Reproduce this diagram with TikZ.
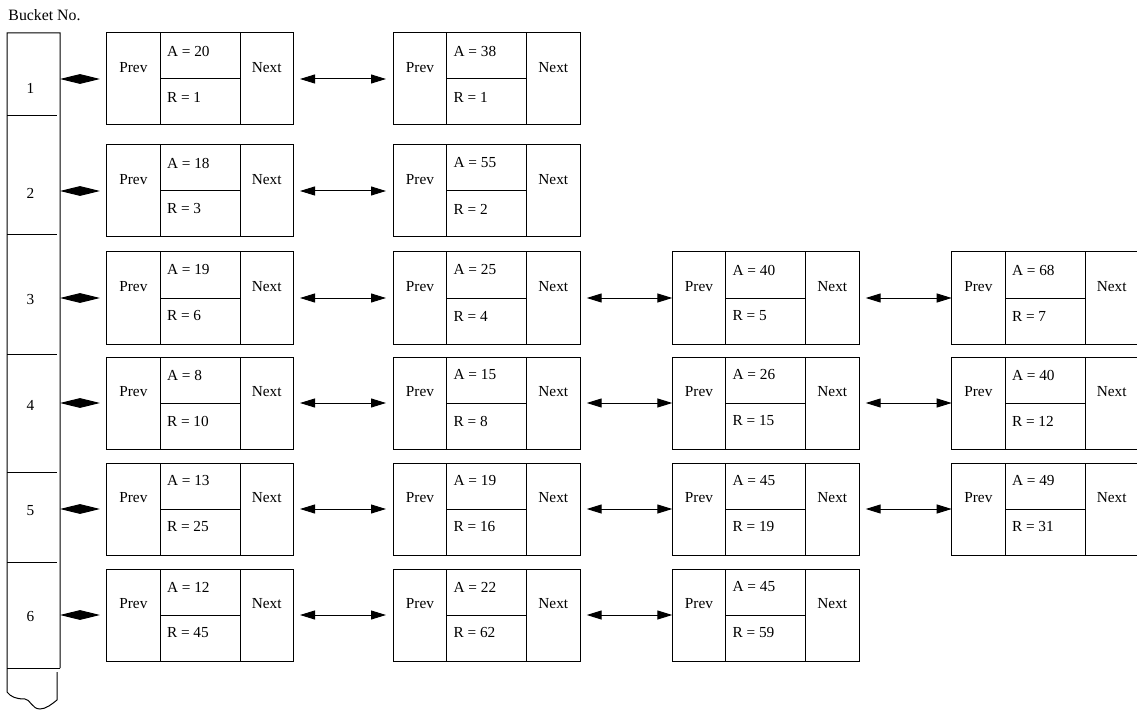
\documentclass[tikz,border=0pt]{standalone}
\usepackage{fontspec}
\setmainfont{Liberation Serif}
\usetikzlibrary{arrows.meta}
\tikzset{
  ln/.style={line width=1pt},
  lbl/.style={inner sep=0pt, outer sep=0pt, font=\fontsize{15.3pt}{18pt}\selectfont},
  llbox/.style={draw, line width=1pt, rectangle, minimum width=186.7pt, minimum height=92pt, inner sep=0pt, outer sep=0pt},
  bkt/.style={rectangle, minimum width=53pt, inner sep=0pt, outer sep=0pt},
  link/.style={ln, {Triangle[length=15pt,width=9pt]}-{Triangle[length=15pt,width=9pt]}},
  dia/.style={ln, {Triangle[length=19.9pt,width=9.5pt]}-{Triangle[length=19.9pt,width=9.5pt]}},
}
\newcommand\llcell[5]{%
  \node[llbox] (#1) at (#2+93.35,#3+46) {};
  \draw[ln] ([xshift=53.3pt]#1.north west) -- ([xshift=53.3pt]#1.south west);
  \draw[ln] ([xshift=-53.3pt]#1.north east) -- ([xshift=-53.3pt]#1.south east);
  \draw[ln] ([xshift=53.3pt]#1.west) -- ([xshift=-53.3pt]#1.east);
  \node[lbl] (#1p) at ([xshift=26.7pt,yshift=11pt]#1.west) {Prev};
  \node[lbl] (#1n) at ([xshift=-26.7pt,yshift=11pt]#1.east) {Next};
  \node[lbl,anchor=west] (#1a) at ([xshift=60.3pt,yshift=28pt]#1.west) {A = #4};
  \node[lbl,anchor=west] (#1r) at ([xshift=60.3pt,yshift=-18pt]#1.west) {R = #5};
}
\begin{document}
\begin{tikzpicture}[x=1pt,y=-1pt]
\useasboundingbox (0,0) rectangle (1137,711);
\node[lbl,anchor=west,font=\fontsize{15.8pt}{18pt}\selectfont] (title) at (8.5,15) {Bucket No.};
% bucket column
\node[bkt, minimum height=82.7pt] (bk1) at (33.5,74.35) {};
\node[bkt, minimum height=119pt] (bk2) at (33.5,175.2) {};
\node[bkt, minimum height=119.3pt] (bk3) at (33.5,294.35) {};
\node[bkt, minimum height=118pt] (bk4) at (33.5,413) {};
\node[bkt, minimum height=90.7pt] (bk5) at (33.5,517.35) {};
\node[bkt, minimum height=105.3pt] (bk6) at (33.5,615.35) {};
\draw[ln] (bk6.south east) -- (bk1.north east) -- (bk1.north west) -- (7,692)
  .. controls (11,697) and (16,699) .. (25,699)
  .. controls (30,699) and (32,709) .. (40,709)
  .. controls (46,709) and (52,704) .. (57,700) -- (57,672);
\draw[ln] (bk6.south west) -- (bk6.south east);
\foreach \b in {bk1,bk2,bk3,bk4,bk5}{
  \draw[ln] (\b.south west) -- ([xshift=-3pt]\b.south east);
}
\node[lbl] (n1) at (30.5,88) {1};
\node[lbl] (n2) at (30.5,193) {2};
\node[lbl] (n3) at (30.5,300) {3};
\node[lbl] (n4) at (30.5,405.5) {4};
\node[lbl] (n5) at (30.5,511) {5};
\node[lbl] (n6) at (30.5,617) {6};
% rows
\llcell{r1c1}{106.7}{33}{20}{1}
\llcell{r1c2}{393.3}{33}{38}{1}
\llcell{r2c1}{106.7}{145}{18}{3}
\llcell{r2c2}{393.3}{145}{55}{2}
\llcell{r3c1}{106.7}{252}{19}{6}
\llcell{r3c2}{393.3}{252}{25}{4}
\llcell{r3c3}{672.3}{252}{40}{5}
\llcell{r3c4}{951.7}{252}{68}{7}
\llcell{r4c1}{106.7}{357}{8}{10}
\llcell{r4c2}{393.3}{357}{15}{8}
\llcell{r4c3}{672.3}{357}{26}{15}
\llcell{r4c4}{951.7}{357}{40}{12}
\llcell{r5c1}{106.7}{463}{13}{25}
\llcell{r5c2}{393.3}{463}{19}{16}
\llcell{r5c3}{672.3}{463}{45}{19}
\llcell{r5c4}{951.7}{463}{49}{31}
\llcell{r6c1}{106.7}{569}{12}{45}
\llcell{r6c2}{393.3}{569}{22}{62}
\llcell{r6c3}{672.3}{569}{45}{59}
% bucket links
\draw[dia, shorten >=6.7pt] (bk1.east |- r1c1.west) -- (r1c1.west);
\draw[dia, shorten >=6.7pt] (bk2.east |- r2c1.west) -- (r2c1.west);
\draw[dia, shorten >=6.7pt] (bk3.east |- r3c1.west) -- (r3c1.west);
\draw[dia, shorten >=6.7pt] (bk4.east |- r4c1.west) -- (r4c1.west);
\draw[dia, shorten >=6.7pt] (bk5.east |- r5c1.west) -- (r5c1.west);
\draw[dia, shorten >=6.7pt] (bk6.east |- r6c1.west) -- (r6c1.west);
% list links
\foreach \r in {1,...,6}{
  \draw[link, shorten <=6.6pt, shorten >=7.3pt] (r\r c1.east) -- (r\r c2.west);
}
\foreach \r in {3,4,5,6}{
  \draw[link, shorten <=6.7pt] (r\r c2.east) -- (r\r c3.west);
}
\foreach \r in {3,4,5}{
  \draw[link, shorten <=6.7pt] (r\r c3.east) -- (r\r c4.west);
}
\end{tikzpicture}
\end{document}
